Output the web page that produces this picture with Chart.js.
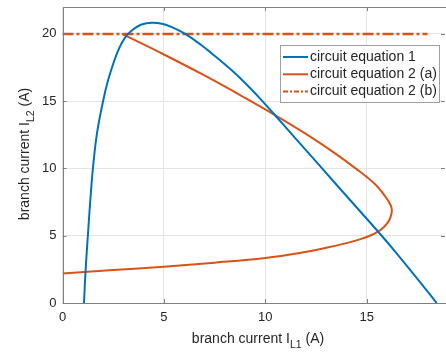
<!DOCTYPE html>
<html>
<head>
<meta charset="utf-8">
<script src="https://cdn.jsdelivr.net/npm/chart.js@4.4.0/dist/chart.umd.min.js"></script>
<style>
  html, body { margin: 0; padding: 0; background: #fff; }
  #wrap { width: 446px; height: 352px; }
</style>
</head>
<body>
<div id="wrap"><canvas id="myChart" width="446" height="352"></canvas></div>
<script>
// values
const xTicks = [0, 5, 10, 15];
const yTicks = [0, 5, 10, 15, 20];

// circuit equation 1 (blue)
const eq1X = [1.06, 1.13, 1.25, 1.37, 1.5, 1.7, 2.0, 2.2, 2.44, 2.7, 2.93, 3.2, 3.5, 3.9, 4.41, 4.9, 5.39, 6.05, 6.87, 7.36, 8.0, 8.6, 9.2, 9.8, 10.6, 11.4, 12.8, 14.2, 15.6, 16.3, 17.4, 18.45];
const eq1Y = [0, 2.2, 5, 7.6, 10, 12.6, 15, 16.3, 17.5, 18.6, 19.35, 19.95, 20.35, 20.7, 20.83, 20.75, 20.5, 20.0, 19.14, 18.55, 17.75, 16.95, 16.05, 15.1, 13.75, 12.38, 10, 7.62, 5.24, 4.0, 1.98, 0];

// circuit equation 2 (a) (orange)
const eq2aX = [2.93, 5.0, 7.0, 9.0, 10.5, 12.0, 13.3, 14.5, 15.4, 15.8, 16.06, 16.2, 16.24, 16.18, 16.06, 15.85, 15.56, 15.15, 14.7, 14.0, 13.0, 11.7, 10.0, 7.5, 5.0, 2.5, 0];
const eq2aY = [20, 18.47, 16.91, 15.25, 13.95, 12.57, 11.27, 9.95, 8.85, 8.15, 7.6, 7.2, 6.85, 6.4, 6.03, 5.65, 5.3, 5.0, 4.75, 4.45, 4.1, 3.72, 3.35, 3.0, 2.7, 2.45, 2.2];

// circuit equation 2 (b) (orange dash-dot)
const eq2bX = [0, 18.0];
const eq2bY = [20, 20];

const toPts = (xs, ys) => xs.map((x, i) => ({ x: x, y: ys[i] }));

const FONT = '"Liberation Sans", Arial, sans-serif';
const TXT = '#262626';

// box, inward ticks, axis titles with subscripts, legend
const decor = {
  id: 'decor',
  afterDraw(chart) {
    const ctx = chart.ctx;
    const a = chart.chartArea;
    const xs = chart.scales.x, ys = chart.scales.y;
    ctx.save();
    ctx.strokeStyle = '#808080';
    ctx.lineWidth = 1;
    ctx.strokeRect(Math.round(a.left) + 0.5, Math.round(a.top) + 0.5,
      Math.round(a.right - a.left), Math.round(a.bottom - a.top));
    // inward ticks
    ctx.beginPath();
    xTicks.forEach(v => {
      const p = Math.round(xs.getPixelForValue(v)) + 0.5;
      ctx.moveTo(p, a.bottom); ctx.lineTo(p, a.bottom - 4);
      ctx.moveTo(p, a.top); ctx.lineTo(p, a.top + 4);
    });
    yTicks.forEach(v => {
      const p = Math.round(ys.getPixelForValue(v)) + 0.5;
      ctx.moveTo(a.left, p); ctx.lineTo(a.left + 4, p);
      ctx.moveTo(a.right, p); ctx.lineTo(a.right - 4, p);
    });
    ctx.stroke();

    // axis titles
    const drawSubTitle = (main, sub, tail, cx, baseline) => {
      ctx.font = '14px ' + FONT;
      const w1 = ctx.measureText(main).width;
      const w3 = ctx.measureText(tail).width;
      ctx.font = '10.5px ' + FONT;
      const w2 = ctx.measureText(sub).width;
      let x = cx - (w1 + w2 + w3) / 2;
      ctx.fillStyle = TXT;
      ctx.textAlign = 'left';
      ctx.textBaseline = 'alphabetic';
      ctx.font = '14px ' + FONT;
      ctx.fillText(main, x, baseline);
      x += w1;
      ctx.font = '10.5px ' + FONT;
      ctx.fillText(sub, x, baseline + 5);
      x += w2;
      ctx.font = '14px ' + FONT;
      ctx.fillText(tail, x, baseline);
    };
    drawSubTitle('branch current I', 'L1', ' (A)', 258, 343);
    ctx.save();
    ctx.translate(29, 154);
    ctx.rotate(-Math.PI / 2);
    drawSubTitle('branch current I', 'L2', ' (A)', 0, 0);
    ctx.restore();

    // legend
    const lx = 280.5, ly = 45.5, lw = 159, lh = 57;
    ctx.fillStyle = '#fff';
    ctx.fillRect(lx, ly, lw, lh);
    ctx.strokeStyle = '#a0a0a0';
    ctx.strokeRect(lx, ly, lw, lh);
    ctx.font = '14px ' + FONT;
    ctx.textBaseline = 'middle';
    chart.data.datasets.forEach((ds, i) => {
      const y = 57 + i * 17.3;
      ctx.strokeStyle = ds.borderColor;
      ctx.lineWidth = 2;
      ctx.setLineDash(ds.borderDash ? [5, 2, 2, 2] : []);
      ctx.beginPath();
      ctx.moveTo(283, y); ctx.lineTo(308, y);
      ctx.stroke();
      ctx.setLineDash([]);
      ctx.fillStyle = TXT;
      ctx.fillText(ds.label, 310, y);
    });
    ctx.restore();
  }
};

const ctx = document.getElementById('myChart').getContext('2d');
const myChart = new Chart(ctx, {
  type: 'scatter',
  data: {
    datasets: [{
      label: 'circuit equation 1',
      data: toPts(eq1X, eq1Y),
      showLine: true,
      borderColor: '#0072BD',
      borderWidth: 2,
      pointRadius: 0,
      tension: 0.4
    }, {
      label: 'circuit equation 2 (a)',
      data: toPts(eq2aX, eq2aY),
      showLine: true,
      borderColor: '#D95319',
      borderWidth: 2,
      pointRadius: 0,
      tension: 0.4
    }, {
      label: 'circuit equation 2 (b)',
      data: toPts(eq2bX, eq2bY),
      showLine: true,
      borderColor: '#D95319',
      borderWidth: 2.5,
      borderDash: [11, 3, 3, 3],
      pointRadius: 0
    }]
  },
  options: {
    responsive: false,
    animation: false,
    layout: { padding: { top: 7, right: 1, left: 0, bottom: 0 } },
    plugins: { legend: { display: false }, tooltip: { enabled: false } },
    scales: {
      x: {
        type: 'linear',
        min: 0,
        max: 18.86,
        afterBuildTicks: s => { s.ticks = xTicks.map(v => ({ value: v })); },
        afterFit: s => { s.height = 49; s.paddingLeft = 0; s.paddingRight = 0; },
        grid: { color: '#e4e4e4', drawTicks: false },
        border: { display: false },
        ticks: { padding: 7, color: TXT, font: { family: FONT, size: 13 }, maxRotation: 0 }
      },
      y: {
        type: 'linear',
        min: 0,
        max: 22,
        afterBuildTicks: s => { s.ticks = yTicks.map(v => ({ value: v })); },
        afterFit: s => { s.width = 62.5; s.paddingTop = 0; s.paddingBottom = 0; },
        grid: { color: '#e4e4e4', drawTicks: false },
        border: { display: false },
        ticks: { padding: 6, color: TXT, font: { family: FONT, size: 13 } }
      }
    }
  },
  plugins: [decor]
});
</script>
</body>
</html>
